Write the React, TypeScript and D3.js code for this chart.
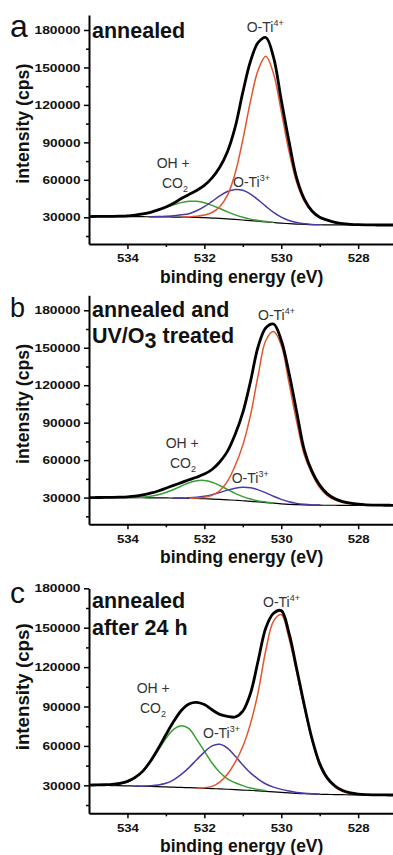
import { useEffect, useRef } from "react"
import * as d3 from "d3"

const n = null

const energies = [535.0, 534.8, 534.6, 534.4, 534.2, 534.0, 533.8, 533.6, 533.4, 533.2, 533.0, 532.8, 532.6, 532.4, 532.2, 532.0, 531.8, 531.6, 531.4, 531.2, 531.0, 530.8, 530.6, 530.4, 530.2, 530.0, 529.8, 529.6, 529.4, 529.2, 529.0, 528.8, 528.6, 528.4, 528.2, 528.0, 527.8, 527.6, 527.4, 527.2, 527.0]

// panel a: annealed
const bgA = [30600, 30600, 30600, 30550, 30550, 30500, 30500, 30450, 30400, 30350, 30300, 30200, 30100, 30000, 29850, 29650, 29400, 29100, 28700, 28250, 27800, 27300, 26800, 26300, 25800, 25300, 24900, 24550, 24300, 24100, 24000, 23950, 23900, 23900, 23850, 23850, 23800, 23800, 23800, 23800, 23800]
const envA = [30600, 30650, 30700, 30800, 30950, 31200, 31800, 32700, 34000, 35900, 38300, 41200, 45000, 48300, 51500, 55500, 61500, 70000, 82500, 102000, 130000, 155000, 170000, 174000, 158000, 124000, 91000, 61500, 44500, 35000, 30000, 27700, 26000, 24900, 24350, 24050, 23900, 23850, 23800, 23800, 23800]
const redA = [n, n, n, n, n, n, n, n, n, n, n, n, 30150, 30300, 30800, 31800, 33800, 38500, 47500, 65000, 92000, 123000, 148000, 159000, 145000, 115000, 83000, 58000, 43000, 34500, 30000, 27500, 25800, 24800, 24300, 24000, 23850, n, n, n, n]
const purA = [n, n, n, n, n, n, n, n, 30430, 30550, 30800, 31200, 32000, 32900, 35200, 38500, 42700, 47100, 50600, 52300, 51600, 48600, 43900, 38700, 33900, 30100, 27400, 25800, 24800, 24300, 24070, n, n, n, n, n, n, n, n, n, n]
const grnA = [n, n, n, 30650, 30790, 31030, 31570, 32430, 33750, 35560, 37720, 39910, 41740, 42800, 42760, 41590, 39540, 36990, 34330, 31930, 30010, 28520, 27420, 26590, 25920, n, n, n, n, n, n, n, n, n, n, n, n, n, n, n, n]

// panel b: annealed and UV/O3 treated
const bgB = [30000, 30000, 30000, 29950, 29950, 29900, 29900, 29850, 29800, 29750, 29700, 29600, 29500, 29400, 29250, 29050, 28800, 28500, 28200, 27850, 27450, 27000, 26500, 26000, 25500, 25000, 24600, 24300, 24100, 23950, 23900, 23850, 23850, 23800, 23800, 23800, 23800, 23800, 23800, 23800, 23800]
const envB = [30000, 30050, 30100, 30200, 30350, 30600, 31100, 32100, 33500, 35300, 37500, 39800, 42000, 44300, 46300, 48800, 52500, 58500, 67000, 80500, 98000, 123000, 151000, 166000, 169000, 156000, 130000, 99000, 68000, 51000, 40000, 33000, 29000, 26800, 25500, 24700, 24200, 24000, 23900, 23850, 23800]
const redB = [n, n, n, n, n, n, n, n, n, n, n, n, n, 29450, 29600, 30200, 31800, 35500, 43000, 55500, 72000, 96000, 128000, 156000, 163000, 152000, 122000, 91000, 64000, 49000, 38000, 31500, 28000, 26000, 25000, 24400, 24100, n, n, n, n]
const purB = [n, n, n, n, n, n, n, n, n, n, n, 29670, 29700, 29880, 30300, 31100, 32370, 34070, 35980, 37550, 38300, 37850, 36200, 33780, 31070, 28570, 26650, 25350, 24580, 24150, 23970, n, n, n, n, n, n, n, n, n, n]
const grnB = [n, n, n, n, n, 29990, 30140, 30430, 31070, 32230, 34070, 36500, 39290, 41870, 43510, 43700, 42310, 39700, 36530, 33420, 30790, 28800, 27370, 26380, 25650, n, n, n, n, n, n, n, n, n, n, n, n, n, n, n, n]

// panel c: annealed after 24 h
const bgC = [30100, 30000, 29900, 29800, 29700, 29600, 29450, 29300, 29150, 29000, 28800, 28600, 28400, 28200, 28000, 27750, 27500, 27250, 27000, 26700, 26400, 26100, 25800, 25400, 25000, 24600, 24200, 23900, 23600, 23400, 23200, 23050, 22950, 22850, 22800, 22750, 22700, 22700, 22650, 22650, 22600]
const envC = [30200, 30300, 30450, 30700, 31500, 33000, 36000, 40800, 48500, 58000, 68500, 78500, 87000, 92000, 93200, 91500, 87500, 84000, 82500, 82000, 86500, 100000, 125000, 150000, 161000, 163000, 146000, 119000, 91000, 65500, 46500, 35500, 29500, 26000, 24200, 23300, 22900, 22750, 22700, 22650, 22600]
const redC = [n, n, n, n, n, n, n, n, n, n, n, n, n, n, 28000, 28100, 29200, 32500, 38500, 47500, 59500, 77000, 101000, 133000, 155000, 160000, 142000, 116000, 89000, 64000, 45000, 34500, 28500, 25300, 23800, 23100, 22800, n, n, n, n]
const purC = [n, n, n, n, n, n, 29460, 29400, 29700, 30300, 31600, 34200, 38300, 43500, 49500, 55300, 60000, 61200, 58300, 52300, 45500, 39500, 34800, 31000, 28600, 26900, 25600, 24600, 24000, 23600, 23300, n, n, n, n, n, n, n, n, n, n]
const grnC = [n, n, 30060, 30270, 30930, 32460, 35390, 40380, 47620, 56550, 65600, 72540, 75400, 73130, 65000, 56000, 47000, 40000, 35000, 32000, 29800, 28000, 26800, 25900, n, n, n, n, n, n, n, n, n, n, n, n, n, n, n, n, n]

const xTicks = [534, 532, 530, 528]
const xMinorTicks = [533, 531, 529]
const yTicks = [30000, 60000, 90000, 120000, 150000, 180000]
const yMinorTicks = [15000, 45000, 75000, 105000, 135000, 165000]

const RED = "#e2552e"
const PURPLE = "#4a3aa6"
const GREEN = "#3a9e33"
const FONT = "'Liberation Sans', Arial, sans-serif"

const panels = [
  {
    letter: "a", letterSize: 32, letterY: 37,
    bg: bgA, env: envA, red: redA, pur: purA, grn: grnA,
    yDomain: [8600, 192000], yRange: [244, 15], titleLen: 120,
    title: [{ y: 38, parts: [["annealed", 0]] }],
    ti4: [246.7, 31.7], oh: [156.7, 168.3], co2: [162, 188.3], ti3: [233, 186.7],
  },
  {
    letter: "b", letterSize: 27, letterY: 317,
    bg: bgB, env: envB, red: redB, pur: purB, grn: grnB,
    yDomain: [8600, 192000], yRange: [524.3, 295.3], titleLen: 120,
    title: [{ y: 316.7, parts: [["annealed and", 0]] }, { y: 342.7, parts: [["UV/O", 0], ["3", 5], [" treated", -5]] }],
    ti4: [258, 320], oh: [165.7, 448.3], co2: [170, 468.3], ti3: [231.7, 483.3],
  },
  {
    letter: "c", letterSize: 30, letterY: 603,
    bg: bgC, env: envC, red: redC, pur: purC, grn: grnC,
    yDomain: [8700, 180000], yRange: [813.3, 588.3], titleLen: 127,
    title: [{ y: 608.3, parts: [["annealed", 0]] }, { y: 635, parts: [["after 24 h", 0]] }],
    ti4: [263, 606.7], oh: [136.7, 693.3], co2: [140, 713.3], ti3: [203, 738.3],
  },
]

export default function App() {
  const svgRef = useRef<SVGSVGElement>(null)

  useEffect(() => {
    if (!svgRef.current) return
    const svg = d3.select(svgRef.current)
    svg.selectAll("*").remove()

    const x = d3.scaleLinear().domain([535, 527]).range([89, 396.6])

    panels.forEach((p) => {
      const y = d3.scaleLinear().domain(p.yDomain).range(p.yRange)
      const g = svg.append("g")
      const bottom = p.yRange[0]

      const line = d3
        .line<number | null>()
        .defined((d) => d != null)
        .x((d, i) => x(energies[i]))
        .y((d) => y(d as number))
        .curve(d3.curveCatmullRom.alpha(0.5))

      const drawCurve = (vals: (number | null)[], color: string, w: number) => {
        g.append("path").attr("d", line(vals)).attr("fill", "none").attr("stroke", color).attr("stroke-width", w).attr("stroke-linejoin", "round")
      }
      drawCurve(p.bg, "#000", 1.2)
      drawCurve(p.grn, GREEN, 1.5)
      drawCurve(p.pur, PURPLE, 1.5)
      drawCurve(p.red, RED, 1.5)
      drawCurve(p.env, "#000", 2.8)

      // y axis
      const yAxis = g.append("g").attr("transform", "translate(89,0)")
        .call(d3.axisLeft(y).tickValues(yTicks).tickSize(5).tickSizeOuter(0).tickPadding(3.5).tickFormat(d3.format("d")))
      yAxis.select(".domain").attr("stroke-width", 2)
      yAxis.selectAll(".tick line").attr("stroke-width", 1.5)
      yAxis.selectAll(".tick text")
        .attr("font-family", FONT).attr("font-weight", "bold").attr("font-size", 11.5).attr("fill", "#111")
        .attr("textLength", (d: any) => (String(d).length === 6 ? 46 : 38)).attr("lengthAdjust", "spacingAndGlyphs")
      const yMinor = g.append("g").attr("transform", "translate(89,0)")
        .call(d3.axisLeft(y).tickValues(yMinorTicks.filter((v) => v < p.yDomain[1])).tickSize(3).tickFormat(() => ""))
      yMinor.select(".domain").remove()
      yMinor.selectAll(".tick line").attr("stroke-width", 1.5)

      // x axis
      const xAxis = g.append("g").attr("transform", `translate(0,${bottom})`)
        .call(d3.axisBottom(x).tickValues(xTicks).tickSize(5).tickSizeOuter(0).tickPadding(5.3).tickFormat(d3.format("d")))
      xAxis.select(".domain").attr("stroke-width", 2)
      xAxis.selectAll(".tick line").attr("stroke-width", 1.5)
      xAxis.selectAll(".tick text")
        .attr("font-family", FONT).attr("font-weight", "bold").attr("font-size", 11.5).attr("fill", "#111")
        .attr("textLength", 22).attr("lengthAdjust", "spacingAndGlyphs")
      const xMinor = g.append("g").attr("transform", `translate(0,${bottom})`)
        .call(d3.axisBottom(x).tickValues(xMinorTicks).tickSize(3).tickFormat(() => ""))
      xMinor.select(".domain").remove()
      xMinor.selectAll(".tick line").attr("stroke-width", 1.5)

      // axis titles
      g.append("text")
        .attr("x", 241.7).attr("y", bottom + 39)
        .attr("text-anchor", "middle").attr("font-family", FONT).attr("font-weight", "bold").attr("font-size", 17.5).attr("fill", "#111")
        .text("binding energy (eV)")
      const ty = y(105000)
      g.append("text")
        .attr("transform", `translate(28.5,${ty}) rotate(-90)`)
        .attr("text-anchor", "middle").attr("font-family", FONT).attr("font-weight", "bold").attr("font-size", 17.5).attr("fill", "#111")
        .attr("textLength", p.titleLen).attr("lengthAdjust", "spacingAndGlyphs")
        .text("intensity (cps)")

      // panel letter and sample description
      g.append("text").attr("x", 10).attr("y", p.letterY).attr("font-family", FONT).attr("font-size", p.letterSize).attr("fill", "#111").text(p.letter)
      p.title.forEach((row) => {
        const t = g.append("text").attr("x", 92).attr("y", row.y).attr("font-family", FONT).attr("font-weight", "bold").attr("font-size", 21.5).attr("fill", "#111")
        row.parts.forEach(([s, dy]) => {
          t.append("tspan").attr("dy", dy as number).text(s as string)
        })
      })

      // component labels
      const label = (pos: number[], main: string, small: string, dy: number) => {
        const t = g.append("text").attr("x", pos[0]).attr("y", pos[1]).attr("font-family", FONT).attr("font-size", 14).attr("fill", "#333")
        t.append("tspan").text(main)
        if (small) t.append("tspan").attr("dy", dy).attr("font-size", 9).text(small)
      }
      label(p.ti4, "O-Ti", "4+", -6)
      label(p.oh, "OH +", "", 0)
      label(p.co2, "CO", "2", 4)
      label(p.ti3, "O-Ti", "3+", -6)
    })
  }, [])

  return (
    <svg
      ref={svgRef}
      width={393}
      height={855}
      style={{ position: "absolute", left: 0, top: 0, background: "#fff" }}
    />
  )
}
